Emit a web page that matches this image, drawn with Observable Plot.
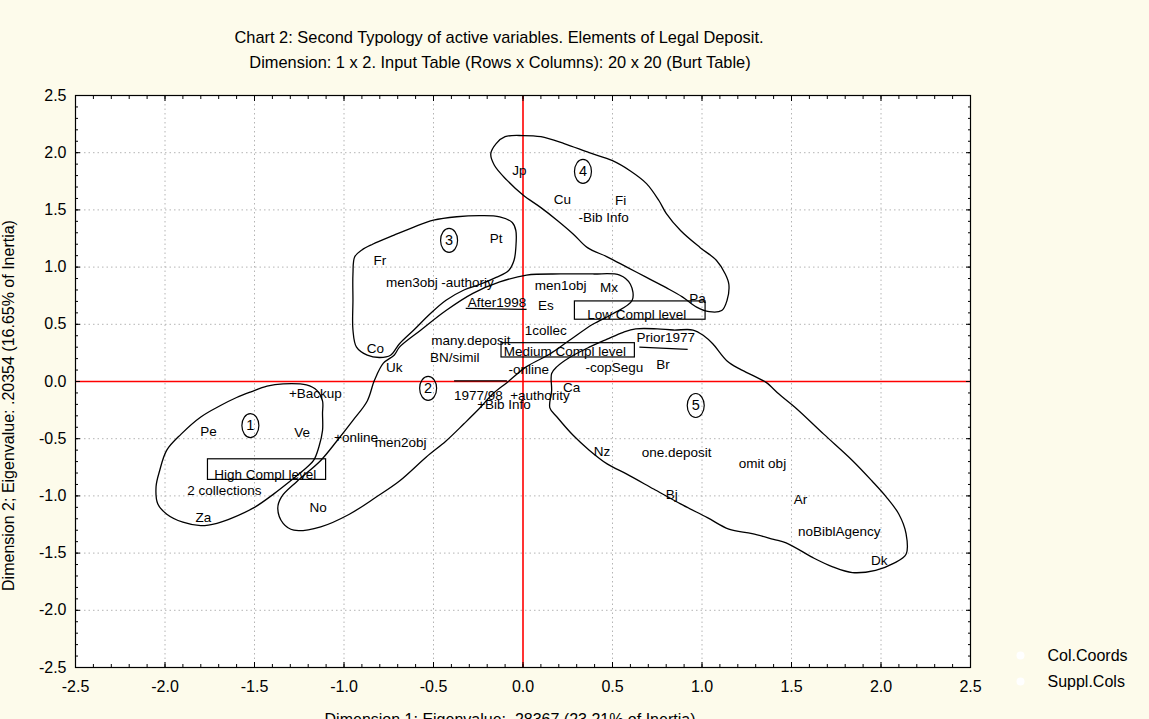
<!DOCTYPE html>
<html>
<head>
<meta charset="utf-8">
<script src="https://cdn.jsdelivr.net/npm/d3@7"></script>
<script src="https://cdn.jsdelivr.net/npm/@observablehq/plot@0.6"></script>
<style>
html, body { margin: 0; padding: 0; background: #fdfbeb; }
#chart { width: 1149px; height: 719px; overflow: hidden; }
</style>
</head>
<body>
<div id="chart"></div>
<script>
// ---- Text ----
const titleLines = [
  "Chart 2: Second Typology of active variables. Elements of Legal Deposit.",
  "Dimension: 1 x 2. Input Table (Rows x Columns): 20 x 20 (Burt Table)"
];
const xAxisLabel = "Dimension 1; Eigenvalue: .28367 (23.21% of Inertia)";
const yAxisLabel = "Dimension 2; Eigenvalue: .20354 (16.65% of Inertia)";
const legendLabels = ["Col.Coords", "Suppl.Cols"];

// ---- Ticks ----
const majorTicks = [-2.5, -2.0, -1.5, -1.0, -0.5, 0.0, 0.5, 1.0, 1.5, 2.0, 2.5];
const gridTicks = [-2.0, -1.5, -1.0, -0.5, 0.5, 1.0, 1.5, 2.0];
const minorTicks = d3.range(-25, 26).map(i => i / 10);

// ---- Point labels (Dimension 1, Dimension 2) ----
const pointLabels = [
  {t: "Jp", x: -0.02, y: 1.84},
  {t: "Cu", x: 0.22, y: 1.59},
  {t: "Fi", x: 0.545, y: 1.58},
  {t: "-Bib Info", x: 0.45, y: 1.43},
  {t: "Pt", x: -0.15, y: 1.245},
  {t: "Fr", x: -0.80, y: 1.06},
  {t: "men3obj", x: -0.621, y: 0.865},
  {t: "-authoriy", x: -0.31, y: 0.865},
  {t: "After1998", x: -0.145, y: 0.688},
  {t: "Es", x: 0.128, y: 0.664},
  {t: "men1obj", x: 0.21, y: 0.84},
  {t: "Mx", x: 0.48, y: 0.82},
  {t: "Pa", x: 0.975, y: 0.725},
  {t: "1collec", x: 0.127, y: 0.446},
  {t: "many.deposit", x: -0.291, y: 0.358},
  {t: "BN/simil", x: -0.381, y: 0.204},
  {t: "Prior1977", x: 0.797, y: 0.382},
  {t: "-copSegu", x: 0.51, y: 0.12},
  {t: "Br", x: 0.782, y: 0.149},
  {t: "-online", x: 0.032, y: 0.102},
  {t: "Co", x: -0.825, y: 0.291},
  {t: "Uk", x: -0.719, y: 0.125},
  {t: "1977/98", x: -0.249, y: -0.128},
  {t: "+authority", x: 0.095, y: -0.128},
  {t: "Ca", x: 0.272, y: -0.055},
  {t: "+Bib Info", x: -0.106, y: -0.204},
  {t: "Nz", x: 0.441, y: -0.61},
  {t: "one.deposit", x: 0.858, y: -0.62},
  {t: "omit obj", x: 1.338, y: -0.72},
  {t: "Bj", x: 0.831, y: -0.99},
  {t: "Ar", x: 1.55, y: -1.03},
  {t: "noBiblAgency", x: 1.767, y: -1.31},
  {t: "Dk", x: 1.99, y: -1.57},
  {t: "+Backup", x: -1.16, y: -0.108},
  {t: "Pe", x: -1.757, y: -0.44},
  {t: "Ve", x: -1.234, y: -0.443},
  {t: "+online", x: -0.933, y: -0.487},
  {t: "men2obj", x: -0.684, y: -0.539},
  {t: "2 collections", x: -1.668, y: -0.95},
  {t: "Za", x: -1.785, y: -1.19},
  {t: "No", x: -1.145, y: -1.104}
];

// ---- Boxed labels ----
const boxes = [
  {t: "Low Compl level", x: 0.636, y: 0.55, x1: 0.29, x2: 1.02, y1: 0.54, y2: 0.70},
  {t: "Medium Compl level", x: 0.234, y: 0.222, x1: -0.12, x2: 0.625, y1: 0.21, y2: 0.335},
  {t: "High Compl level", x: -1.44, y: -0.852, x1: -1.76, x2: -1.10, y1: -0.86, y2: -0.68}
];

// ---- Underline strokes ----
const strokes = [
  {x1: -0.32, y1: 0.64, x2: 0.02, y2: 0.63},
  {x1: 0.65, y1: 0.30, x2: 0.92, y2: 0.28},
  {x1: -0.385, y1: 0.006, x2: -0.09, y2: 0.006}
];

// ---- Group numbers ----
const groups = [
  {n: "1", x: -1.523, y: -0.385},
  {n: "2", x: -0.53, y: -0.06},
  {n: "3", x: -0.413, y: 1.233},
  {n: "4", x: 0.335, y: 1.836},
  {n: "5", x: 0.965, y: -0.21}
];

// ---- Hand-drawn group outlines ----
const contour1 = [[-1.52,-0.09],[-1.43,-0.04],[-1.34,-0.02],[-1.21,-0.03],[-1.15,-0.08],[-1.12,-0.17],[-1.12,-0.28],[-1.12,-0.43],[-1.14,-0.57],[-1.17,-0.69],[-1.23,-0.78],[-1.30,-0.87],[-1.39,-0.98],[-1.50,-1.10],[-1.62,-1.19],[-1.71,-1.24],[-1.80,-1.26],[-1.90,-1.23],[-1.99,-1.16],[-2.04,-1.07],[-2.05,-0.92],[-2.03,-0.78],[-1.99,-0.60],[-1.91,-0.46],[-1.80,-0.31],[-1.69,-0.21],[-1.60,-0.14]];
const contour2 = [[-0.72,0.23],[-0.69,0.30],[-0.57,0.45],[-0.43,0.62],[-0.28,0.77],[-0.13,0.87],[0.02,0.93],[0.21,0.94],[0.39,0.94],[0.54,0.93],[0.60,0.85],[0.61,0.71],[0.50,0.59],[0.39,0.50],[0.26,0.36],[0.15,0.24],[0.02,0.13],[-0.09,-0.01],[-0.17,-0.11],[-0.24,-0.23],[-0.33,-0.37],[-0.43,-0.52],[-0.54,-0.66],[-0.69,-0.87],[-0.82,-1.01],[-0.97,-1.16],[-1.13,-1.27],[-1.28,-1.30],[-1.34,-1.24],[-1.37,-1.11],[-1.35,-1.01],[-1.26,-0.87],[-1.13,-0.69],[-1.04,-0.52],[-0.95,-0.34],[-0.87,-0.17],[-0.83,0.01],[-0.78,0.16]];
const contour3 = [[-0.90,1.15],[-0.84,1.20],[-0.72,1.28],[-0.61,1.35],[-0.50,1.41],[-0.37,1.44],[-0.24,1.45],[-0.13,1.44],[-0.06,1.39],[-0.04,1.32],[-0.04,1.17],[-0.05,1.06],[-0.08,0.97],[-0.15,0.91],[-0.24,0.85],[-0.33,0.80],[-0.43,0.71],[-0.52,0.59],[-0.61,0.45],[-0.69,0.33],[-0.74,0.23],[-0.80,0.21],[-0.87,0.23],[-0.93,0.30],[-0.95,0.45],[-0.95,0.71],[-0.95,0.94],[-0.94,1.09]];
const contour4 = [[-0.10,2.14],[0.00,2.15],[0.10,2.14],[0.23,2.08],[0.37,2.00],[0.50,1.93],[0.60,1.84],[0.69,1.73],[0.76,1.58],[0.80,1.47],[0.88,1.32],[0.99,1.17],[1.08,1.06],[1.13,0.94],[1.15,0.85],[1.14,0.71],[1.11,0.62],[1.04,0.61],[0.97,0.65],[0.89,0.74],[0.80,0.82],[0.69,0.91],[0.58,1.00],[0.47,1.09],[0.36,1.17],[0.28,1.29],[0.19,1.41],[0.10,1.52],[0.00,1.63],[-0.09,1.76],[-0.16,1.89],[-0.18,1.99],[-0.15,2.08]];
const contour5 = [[0.16,0.07],[0.19,0.13],[0.26,0.21],[0.37,0.30],[0.47,0.37],[0.56,0.43],[0.63,0.46],[0.75,0.46],[0.84,0.45],[0.95,0.45],[1.01,0.40],[1.06,0.33],[1.14,0.18],[1.21,0.11],[1.30,0.04],[1.36,-0.01],[1.43,-0.11],[1.53,-0.24],[1.68,-0.46],[1.84,-0.69],[1.95,-0.87],[2.03,-1.01],[2.10,-1.16],[2.14,-1.33],[2.14,-1.51],[2.07,-1.59],[1.97,-1.65],[1.84,-1.67],[1.73,-1.62],[1.62,-1.54],[1.47,-1.41],[1.40,-1.38],[1.28,-1.33],[1.15,-1.29],[1.03,-1.19],[0.88,-1.07],[0.73,-0.94],[0.58,-0.81],[0.47,-0.72],[0.37,-0.60],[0.28,-0.47],[0.19,-0.31],[0.15,-0.23],[0.16,-0.08]];
const contours = [contour1, contour2, contour3, contour4, contour5];

// ellipse symbol for the group numbers
const ellipseSymbol = {
  draw(ctx) {
    const rx = 8.5, ry = 12, k = 0.5523;
    ctx.moveTo(rx, 0);
    ctx.bezierCurveTo(rx, ry * k, rx * k, ry, 0, ry);
    ctx.bezierCurveTo(-rx * k, ry, -rx, ry * k, -rx, 0);
    ctx.bezierCurveTo(-rx, -ry * k, -rx * k, -ry, 0, -ry);
    ctx.bezierCurveTo(rx * k, -ry, rx, -ry * k, rx, 0);
    ctx.closePath();
  }
};

const font = "'Liberation Sans', Arial, Helvetica, sans-serif";
const fmt = d => d.toFixed(1);
const blank = () => "";

const chart = Plot.plot({
  width: 1149,
  height: 719,
  marginLeft: 75,
  marginRight: 179,
  marginTop: 95,
  marginBottom: 52,
  x: {domain: [-2.5, 2.5]},
  y: {domain: [-2.5, 2.5]},
  style: {background: "transparent", fontFamily: font, color: "black", overflow: "visible"},
  marks: [
    Plot.frame({fill: "white", stroke: null}),
    Plot.gridX(gridTicks, {stroke: "#b4b4b4", strokeOpacity: 1, strokeDasharray: "1.5,3"}),
    Plot.gridY(gridTicks, {stroke: "#b4b4b4", strokeOpacity: 1, strokeDasharray: "1.5,3"}),
    Plot.ruleX([0], {stroke: "#ff0000", strokeWidth: 1.6}),
    Plot.ruleY([0], {stroke: "#ff0000", strokeWidth: 1.6}),
    ...contours.map(c => Plot.line(c, {x: d => d[0], y: d => d[1], curve: "catmull-rom-closed", stroke: "black", strokeWidth: 1.3})),
    Plot.rect(boxes, {x1: "x1", x2: "x2", y1: "y1", y2: "y2", fill: "none", stroke: "black", strokeWidth: 1.2}),
    Plot.link(strokes, {x1: "x1", y1: "y1", x2: "x2", y2: "y2", stroke: "black", strokeWidth: 1.3}),
    Plot.text(pointLabels, {x: "x", y: "y", text: "t", fontSize: 13.5, lineAnchor: "middle", fill: "black"}),
    Plot.text(boxes, {x: "x", y: "y", text: "t", fontSize: 13.5, lineAnchor: "bottom", fill: "black"}),
    Plot.dot(groups, {x: "x", y: "y", symbol: ellipseSymbol, stroke: "black", fill: "none", strokeWidth: 1.2}),
    Plot.text(groups, {x: "x", y: "y", text: "n", fontSize: 14.5, lineAnchor: "middle", fill: "black"}),
    // axes (ticks point inward)
    Plot.axisX(majorTicks, {anchor: "bottom", tickSize: -5, tickPadding: 18, tickFormat: fmt, fontSize: 16, label: null}),
    Plot.axisX(minorTicks, {anchor: "bottom", tickSize: -3, tickFormat: blank, label: null}),
    Plot.axisX(majorTicks, {anchor: "top", tickSize: -5, tickFormat: blank, label: null}),
    Plot.axisX(minorTicks, {anchor: "top", tickSize: -3, tickFormat: blank, label: null}),
    Plot.axisY(majorTicks, {anchor: "left", tickSize: -5, tickPadding: 14, tickFormat: fmt, fontSize: 16, label: null}),
    Plot.axisY(minorTicks, {anchor: "left", tickSize: -3, tickFormat: blank, label: null}),
    Plot.axisY(majorTicks, {anchor: "right", tickSize: -5, tickFormat: blank, label: null}),
    Plot.axisY(minorTicks, {anchor: "right", tickSize: -3, tickFormat: blank, label: null}),
    Plot.frame({stroke: "black", strokeWidth: 1.2}),
    // titles
    Plot.text([titleLines[0]], {text: d => d, frameAnchor: "top", dx: -24, dy: -58, lineAnchor: "middle", textAnchor: "middle", fontSize: 16.4}),
    Plot.text([titleLines[1]], {text: d => d, frameAnchor: "top", dx: -23, dy: -33, lineAnchor: "middle", textAnchor: "middle", fontSize: 16.4}),
    Plot.text([xAxisLabel], {text: d => d, frameAnchor: "bottom", dx: -13, dy: 57, lineAnchor: "bottom", textAnchor: "middle", fontSize: 16}),
    Plot.text([yAxisLabel], {text: d => d, frameAnchor: "left", rotate: -90, dx: -62, dy: 24, lineAnchor: "bottom", textAnchor: "middle", fontSize: 16}),
    // legend
    Plot.dot([legendLabels[0]], {frameAnchor: "bottom-right", dx: 50, dy: -12, r: 4, fill: "white", stroke: "none"}),
    Plot.dot([legendLabels[1]], {frameAnchor: "bottom-right", dx: 50, dy: 14, r: 4, fill: "white", stroke: "none"}),
    Plot.text([legendLabels[0]], {text: d => d, frameAnchor: "bottom-right", dx: 77, dy: -12, textAnchor: "start", lineAnchor: "middle", fontSize: 16}),
    Plot.text([legendLabels[1]], {text: d => d, frameAnchor: "bottom-right", dx: 77, dy: 14, textAnchor: "start", lineAnchor: "middle", fontSize: 16})
  ]
});
document.getElementById("chart").appendChild(chart);
</script>
</body>
</html>
